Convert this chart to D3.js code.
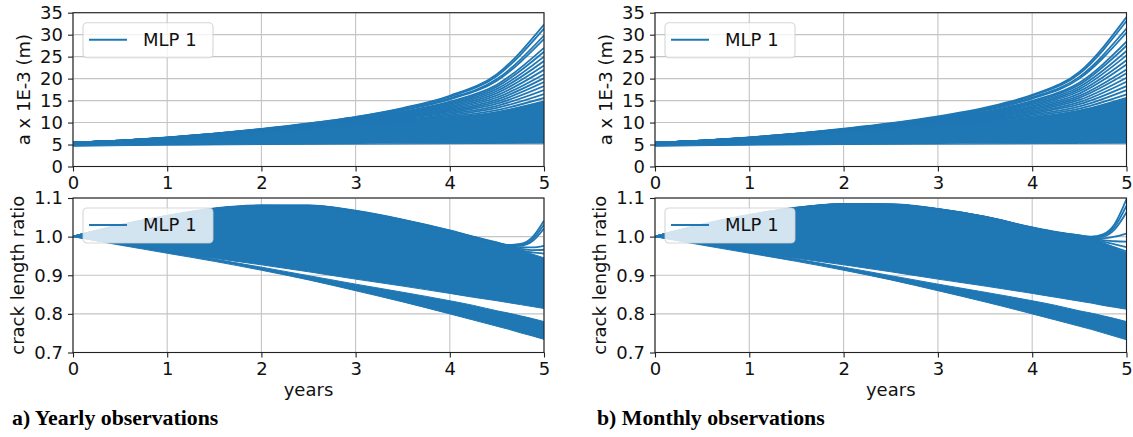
<!DOCTYPE html>
<html>
<head>
<meta charset="utf-8">
<script src="https://cdn.jsdelivr.net/npm/d3@7"></script>
<style>
  html, body { margin: 0; padding: 0; background: #fff; }
  svg { display: block; }
  text { font-family: "DejaVu Sans", sans-serif; }
</style>
</head>
<body>
<svg id="fig" width="1133" height="437"></svg>
<script>
// ---------------------------------------------------------------
// Sample years
// ---------------------------------------------------------------
const yearsCrack = [0, 0.5, 1, 1.5, 2, 2.5, 3, 3.5, 4, 4.5, 5];
const yearsRatio = [0, 0.5, 1, 1.5, 2, 2.5, 3, 3.5, 4, 4.25, 4.5, 4.625, 4.75, 4.875, 5];

// Tick values
const xTicks = [0, 1, 2, 3, 4, 5];
const crackTicks = [0, 5, 10, 15, 20, 25, 30, 35];
const ratioTicks = [0.7, 0.8, 0.9, 1.0, 1.1];

// ---------------------------------------------------------------
// a) Yearly observations — crack length a x 1E-3 (m)
// dense core of the ensemble (lower / upper edge)
// ---------------------------------------------------------------
const yearlyCrackCoreLow  = [4.6, 4.75, 4.85, 4.92, 5.0, 5.05, 5.1, 5.15, 5.2, 5.25, 5.3];
const yearlyCrackCoreHigh = [5.4, 5.8, 6.31, 6.96, 7.68, 8.42, 9.2, 10.04, 11.04, 12.39, 14.8];
// individual runs fanning out towards year 5
const yearlyCrackRuns = [
  [5.4, 5.9, 6.6, 7.5, 8.55, 9.8, 11.3, 13.3, 16.1, 21.0, 32.3],
  [5.4, 5.9, 6.59, 7.48, 8.52, 9.75, 11.22, 13.16, 15.88, 20.6, 31.4],
  [5.4, 5.89, 6.57, 7.46, 8.46, 9.65, 11.06, 12.92, 15.49, 19.89, 29.8],
  [5.4, 5.88, 6.56, 7.42, 8.42, 9.6, 10.98, 12.79, 15.28, 19.52, 29.0],
  [5.4, 5.87, 6.53, 7.37, 8.34, 9.46, 10.78, 12.47, 14.76, 18.61, 27.0],
  [5.4, 5.87, 6.52, 7.35, 8.30, 9.40, 10.68, 12.32, 14.53, 18.18, 26.1],
  [5.4, 5.86, 6.50, 7.32, 8.26, 9.32, 10.56, 12.13, 14.23, 17.66, 25.0],
  [5.4, 5.86, 6.49, 7.29, 8.21, 9.25, 10.45, 11.95, 13.95, 17.18, 24.0],
  [5.4, 5.85, 6.47, 7.26, 8.16, 9.17, 10.33, 11.77, 13.66, 16.69, 23.0],
  [5.4, 5.85, 6.46, 7.23, 8.11, 9.09, 10.21, 11.58, 13.37, 16.20, 22.0],
  [5.4, 5.84, 6.44, 7.20, 8.06, 9.01, 10.09, 11.39, 13.08, 15.70, 21.0],
  [5.4, 5.84, 6.42, 7.17, 8.01, 8.93, 9.98, 11.21, 12.80, 15.24, 20.1],
  [5.4, 5.83, 6.41, 7.14, 7.96, 8.86, 9.85, 11.03, 12.52, 14.77, 19.2],
  [5.4, 5.83, 6.39, 7.11, 7.91, 8.77, 9.73, 10.84, 12.24, 14.30, 18.3],
  [5.4, 5.82, 6.37, 7.07, 7.86, 8.69, 9.60, 10.65, 11.94, 13.82, 17.4],
  [5.4, 5.82, 6.35, 7.04, 7.80, 8.60, 9.47, 10.44, 11.64, 13.34, 16.5],
  [5.4, 5.81, 6.33, 7.00, 7.74, 8.50, 9.33, 10.23, 11.33, 12.84, 15.6],
  [5.4, 5.8, 6.31, 6.96, 7.68, 8.42, 9.20, 10.04, 11.04, 12.39, 14.8]
];

// ---------------------------------------------------------------
// b) Monthly observations — crack length a x 1E-3 (m)
// ---------------------------------------------------------------
const monthlyCrackCoreLow  = [4.6, 4.75, 4.85, 4.92, 5.0, 5.05, 5.1, 5.15, 5.2, 5.25, 5.3];
const monthlyCrackCoreHigh = [5.4, 5.8, 6.31, 6.96, 7.68, 8.42, 9.2, 10.04, 11.17, 12.7, 15.6];
const monthlyCrackRuns = [
  [5.4, 5.9, 6.6, 7.5, 8.6, 9.85, 11.4, 13.4, 16.3, 21.5, 34.0],
  [5.4, 5.9, 6.59, 7.48, 8.52, 9.75, 11.22, 13.16, 16.07, 21.1, 33.1],
  [5.4, 5.89, 6.57, 7.46, 8.46, 9.65, 11.06, 12.92, 15.68, 20.4, 31.4],
  [5.4, 5.88, 6.56, 7.42, 8.42, 9.6, 10.98, 12.79, 15.46, 20.0, 30.5],
  [5.4, 5.87, 6.53, 7.37, 8.34, 9.46, 10.78, 12.47, 14.94, 19.08, 28.4],
  [5.4, 5.87, 6.52, 7.35, 8.30, 9.40, 10.68, 12.32, 14.70, 18.63, 27.5],
  [5.4, 5.86, 6.50, 7.32, 8.26, 9.32, 10.56, 12.13, 14.40, 18.10, 26.3],
  [5.4, 5.86, 6.49, 7.29, 8.21, 9.25, 10.45, 11.95, 14.12, 17.61, 25.3],
  [5.4, 5.85, 6.47, 7.26, 8.16, 9.17, 10.33, 11.77, 13.82, 17.11, 24.2],
  [5.4, 5.85, 6.46, 7.23, 8.11, 9.09, 10.21, 11.58, 13.53, 16.60, 23.2],
  [5.4, 5.84, 6.44, 7.20, 8.06, 9.01, 10.09, 11.39, 13.24, 16.09, 22.1],
  [5.4, 5.84, 6.42, 7.17, 8.01, 8.93, 9.98, 11.21, 12.95, 15.62, 21.2],
  [5.4, 5.83, 6.41, 7.14, 7.96, 8.86, 9.85, 11.03, 12.67, 15.14, 20.2],
  [5.4, 5.83, 6.39, 7.11, 7.91, 8.77, 9.73, 10.84, 12.39, 14.66, 19.3],
  [5.4, 5.82, 6.37, 7.07, 7.86, 8.69, 9.60, 10.65, 12.08, 14.17, 18.3],
  [5.4, 5.82, 6.35, 7.04, 7.80, 8.60, 9.47, 10.44, 11.78, 13.67, 17.4],
  [5.4, 5.81, 6.33, 7.00, 7.74, 8.50, 9.33, 10.23, 11.47, 13.16, 16.4],
  [5.4, 5.8, 6.31, 6.96, 7.68, 8.42, 9.20, 10.04, 11.17, 12.7, 15.6]
];

// ---------------------------------------------------------------
// a) Yearly observations — crack length ratio
// ---------------------------------------------------------------
const yearlyRatioMainHigh  = [1.000, 1.030, 1.054, 1.073, 1.081, 1.081, 1.067, 1.044, 1.016, 1.000, 0.983, 0.974, 0.965, 0.955, 0.945];
const yearlyRatioMainLow   = [1.000, 0.980, 0.961, 0.944, 0.927, 0.909, 0.890, 0.872, 0.853, 0.843, 0.834, 0.829, 0.824, 0.819, 0.814];
const yearlyRatioGroupHigh = [1.000, 0.981, 0.962, 0.942, 0.921, 0.899, 0.877, 0.856, 0.834, 0.822, 0.808, 0.802, 0.795, 0.788, 0.780];
const yearlyRatioGroupLow  = [1.000, 0.978, 0.957, 0.936, 0.913, 0.888, 0.860, 0.831, 0.800, 0.784, 0.768, 0.760, 0.751, 0.743, 0.734];
const yearlyRatioRuns = [
  [1.000, 1.030, 1.054, 1.073, 1.081, 1.081, 1.067, 1.044, 1.016, 1.000, 0.985, 0.978, 0.981, 0.998, 1.041],
  [1.000, 1.030, 1.054, 1.072, 1.080, 1.080, 1.066, 1.043, 1.015, 0.999, 0.984, 0.978, 0.979, 0.993, 1.031],
  [1.000, 1.029, 1.053, 1.072, 1.080, 1.079, 1.065, 1.042, 1.014, 0.998, 0.983, 0.977, 0.977, 0.988, 1.021],
  [1.000, 1.029, 1.053, 1.071, 1.079, 1.078, 1.064, 1.041, 1.013, 0.997, 0.983, 0.976, 0.973, 0.972, 0.976],
  [1.000, 1.029, 1.052, 1.071, 1.078, 1.077, 1.063, 1.040, 1.012, 0.996, 0.982, 0.975, 0.969, 0.965, 0.966],
  [1.000, 1.028, 1.052, 1.070, 1.077, 1.076, 1.062, 1.039, 1.011, 0.995, 0.981, 0.973, 0.965, 0.959, 0.956]
];

// ---------------------------------------------------------------
// b) Monthly observations — crack length ratio
// ---------------------------------------------------------------
const monthlyRatioMainHigh  = [1.000, 1.031, 1.056, 1.075, 1.085, 1.084, 1.072, 1.052, 1.024, 1.012, 1.002, 0.994, 0.984, 0.972, 0.958];
const monthlyRatioMainLow   = [1.000, 0.980, 0.961, 0.944, 0.927, 0.909, 0.890, 0.872, 0.853, 0.843, 0.833, 0.828, 0.822, 0.817, 0.812];
const monthlyRatioGroupHigh = [1.000, 0.981, 0.962, 0.942, 0.921, 0.899, 0.877, 0.856, 0.834, 0.822, 0.808, 0.802, 0.795, 0.788, 0.780];
const monthlyRatioGroupLow  = [1.000, 0.978, 0.957, 0.936, 0.913, 0.888, 0.860, 0.831, 0.800, 0.784, 0.768, 0.760, 0.751, 0.742, 0.733];
const monthlyRatioRuns = [
  [1.000, 1.031, 1.056, 1.075, 1.085, 1.084, 1.072, 1.052, 1.024, 1.012, 1.003, 1.000, 1.006, 1.033, 1.097],
  [1.000, 1.031, 1.056, 1.075, 1.084, 1.083, 1.071, 1.051, 1.023, 1.011, 1.003, 0.999, 1.003, 1.026, 1.080],
  [1.000, 1.030, 1.055, 1.074, 1.084, 1.083, 1.071, 1.051, 1.023, 1.011, 1.002, 0.998, 1.000, 1.019, 1.063],
  [1.000, 1.030, 1.055, 1.074, 1.083, 1.082, 1.070, 1.050, 1.022, 1.010, 1.002, 0.997, 0.996, 1.000, 1.008],
  [1.000, 1.030, 1.055, 1.073, 1.083, 1.082, 1.070, 1.050, 1.022, 1.010, 1.001, 0.995, 0.991, 0.988, 0.987],
  [1.000, 1.030, 1.054, 1.073, 1.082, 1.081, 1.069, 1.049, 1.021, 1.009, 1.000, 0.993, 0.987, 0.980, 0.973],
  [1.000, 1.029, 1.054, 1.072, 1.082, 1.081, 1.069, 1.049, 1.021, 1.008, 0.999, 0.991, 0.982, 0.972, 0.962]
];

const legendLabel = "MLP 1";
const crackLabel = "a x 1E-3 (m)";
const ratioLabel = "crack length ratio";
const xLabel = "years";
const captions = ["a) Yearly observations", "b) Monthly observations"];

// ---------------------------------------------------------------
// Layout
// ---------------------------------------------------------------
const BLUE = "#1f77b4";
const FONT = 18;
const columns = [
  { x0: 73,  x1: 544,    capX: 12 },
  { x0: 655, x1: 1126.5, capX: 597 }
];
const rowTop = { y0: 12.7, y1: 166.5 };
const rowBottom = { y0: 198, y1: 352.5 };

const panels = [
  { col: 0, row: rowTop, years: yearsCrack, domain: [0, 35], ticks: crackTicks, fmt: d3.format("d"),
    label: crackLabel, labelOff: 43, bands: [[yearlyCrackCoreLow, yearlyCrackCoreHigh]], runs: yearlyCrackRuns, xLabel: false },
  { col: 0, row: rowBottom, years: yearsRatio, domain: [0.7, 1.1], ticks: ratioTicks, fmt: d3.format(".1f"),
    label: ratioLabel, labelOff: 49,
    bands: [[yearlyRatioMainLow, yearlyRatioMainHigh], [yearlyRatioGroupLow, yearlyRatioGroupHigh]],
    runs: yearlyRatioRuns, xLabel: true },
  { col: 1, row: rowTop, years: yearsCrack, domain: [0, 35], ticks: crackTicks, fmt: d3.format("d"),
    label: crackLabel, labelOff: 43, bands: [[monthlyCrackCoreLow, monthlyCrackCoreHigh]], runs: monthlyCrackRuns, xLabel: false },
  { col: 1, row: rowBottom, years: yearsRatio, domain: [0.7, 1.1], ticks: ratioTicks, fmt: d3.format(".1f"),
    label: ratioLabel, labelOff: 49,
    bands: [[monthlyRatioMainLow, monthlyRatioMainHigh], [monthlyRatioGroupLow, monthlyRatioGroupHigh]],
    runs: monthlyRatioRuns, xLabel: true }
];

const svg = d3.select("#fig");
const defs = svg.append("defs");

panels.forEach((p, i) => {
  const { x0, x1 } = columns[p.col];
  const { y0, y1 } = p.row;
  const x = d3.scaleLinear().domain([0, 5]).range([x0, x1]);
  const y = d3.scaleLinear().domain(p.domain).range([y1, y0]);
  const g = svg.append("g");

  const clipId = "clip" + i;
  defs.append("clipPath").attr("id", clipId)
    .append("rect").attr("x", x0).attr("y", y0).attr("width", x1 - x0).attr("height", y1 - y0);

  // grid
  const grid = g.append("g").attr("stroke", "#c4c4c4").attr("stroke-width", 1.1);
  grid.selectAll(".gx").data(xTicks).join("line")
    .attr("x1", d => x(d)).attr("x2", d => x(d)).attr("y1", y0).attr("y2", y1);
  grid.selectAll(".gy").data(p.ticks).join("line")
    .attr("x1", x0).attr("x2", x1).attr("y1", d => y(d)).attr("y2", d => y(d));

  // ensemble: dense core as bands, outlying runs as lines
  const plot = g.append("g").attr("clip-path", `url(#${clipId})`);
  const area = d3.area()
    .x((d, k) => x(p.years[k]))
    .y0(d => y(d[0])).y1(d => y(d[1]))
    .curve(d3.curveMonotoneX);
  p.bands.forEach(([lo, hi]) => {
    plot.append("path")
      .datum(lo.map((v, k) => [v, hi[k]]))
      .attr("fill", BLUE).attr("stroke", BLUE).attr("stroke-width", 1)
      .attr("d", area);
  });
  const line = d3.line()
    .x((d, k) => x(p.years[k]))
    .y(d => y(d))
    .curve(d3.curveMonotoneX);
  plot.selectAll(".run").data(p.runs).join("path")
    .attr("fill", "none").attr("stroke", BLUE).attr("stroke-width", 1.8)
    .attr("d", line);

  // axes
  const ax = g.append("g").attr("transform", `translate(0,${y1})`)
    .call(d3.axisBottom(x).tickValues(xTicks).tickFormat(d3.format("d")).tickSize(5).tickPadding(5));
  const ay = g.append("g").attr("transform", `translate(${x0},0)`)
    .call(d3.axisLeft(y).tickValues(p.ticks).tickFormat(p.fmt).tickSize(5).tickPadding(5));
  [ax, ay].forEach(a => {
    a.select(".domain").remove();
    a.selectAll(".tick line").attr("stroke", "#222").attr("stroke-width", 1.1);
    a.selectAll(".tick text").attr("fill", "#111").style("font-size", FONT + "px")
      .style("font-family", "'DejaVu Sans', sans-serif");
  });

  // frame
  g.append("rect").attr("x", x0).attr("y", y0).attr("width", x1 - x0).attr("height", y1 - y0)
    .attr("fill", "none").attr("stroke", "#222").attr("stroke-width", 1.1);

  // y label
  g.append("text")
    .attr("transform", `translate(${x0 - p.labelOff},${(y0 + y1) / 2}) rotate(-90)`)
    .attr("text-anchor", "middle").attr("fill", "#111").style("font-size", FONT + "px")
    .text(p.label);

  if (p.xLabel) {
    g.append("text").attr("x", (x0 + x1) / 2).attr("y", 396)
      .attr("text-anchor", "middle").attr("fill", "#111").style("font-size", FONT + "px")
      .text(xLabel);
  }

  // legend
  const lg = g.append("g").attr("transform", `translate(${x0 + 10},${y0 + 10})`);
  lg.append("rect").attr("width", 130).attr("height", 35).attr("rx", 4)
    .attr("fill", "#fff").attr("fill-opacity", 0.8)
    .attr("stroke", "#ccc").attr("stroke-opacity", 0.8).attr("stroke-width", 1.1);
  lg.append("line").attr("x1", 6).attr("x2", 44).attr("y1", 17).attr("y2", 17)
    .attr("stroke", BLUE).attr("stroke-width", 2);
  lg.append("text").attr("x", 60).attr("y", 17).attr("dy", "0.36em")
    .attr("fill", "#111").style("font-size", FONT + "px").text(legendLabel);
});

// captions
columns.forEach((c, i) => {
  svg.append("text").attr("x", c.capX).attr("y", 425)
    .style("font-family", "'Liberation Serif', 'Times New Roman', serif")
    .style("font-weight", "bold").style("font-size", "21.8px").attr("fill", "#000")
    .text(captions[i]);
});
</script>
</body>
</html>
